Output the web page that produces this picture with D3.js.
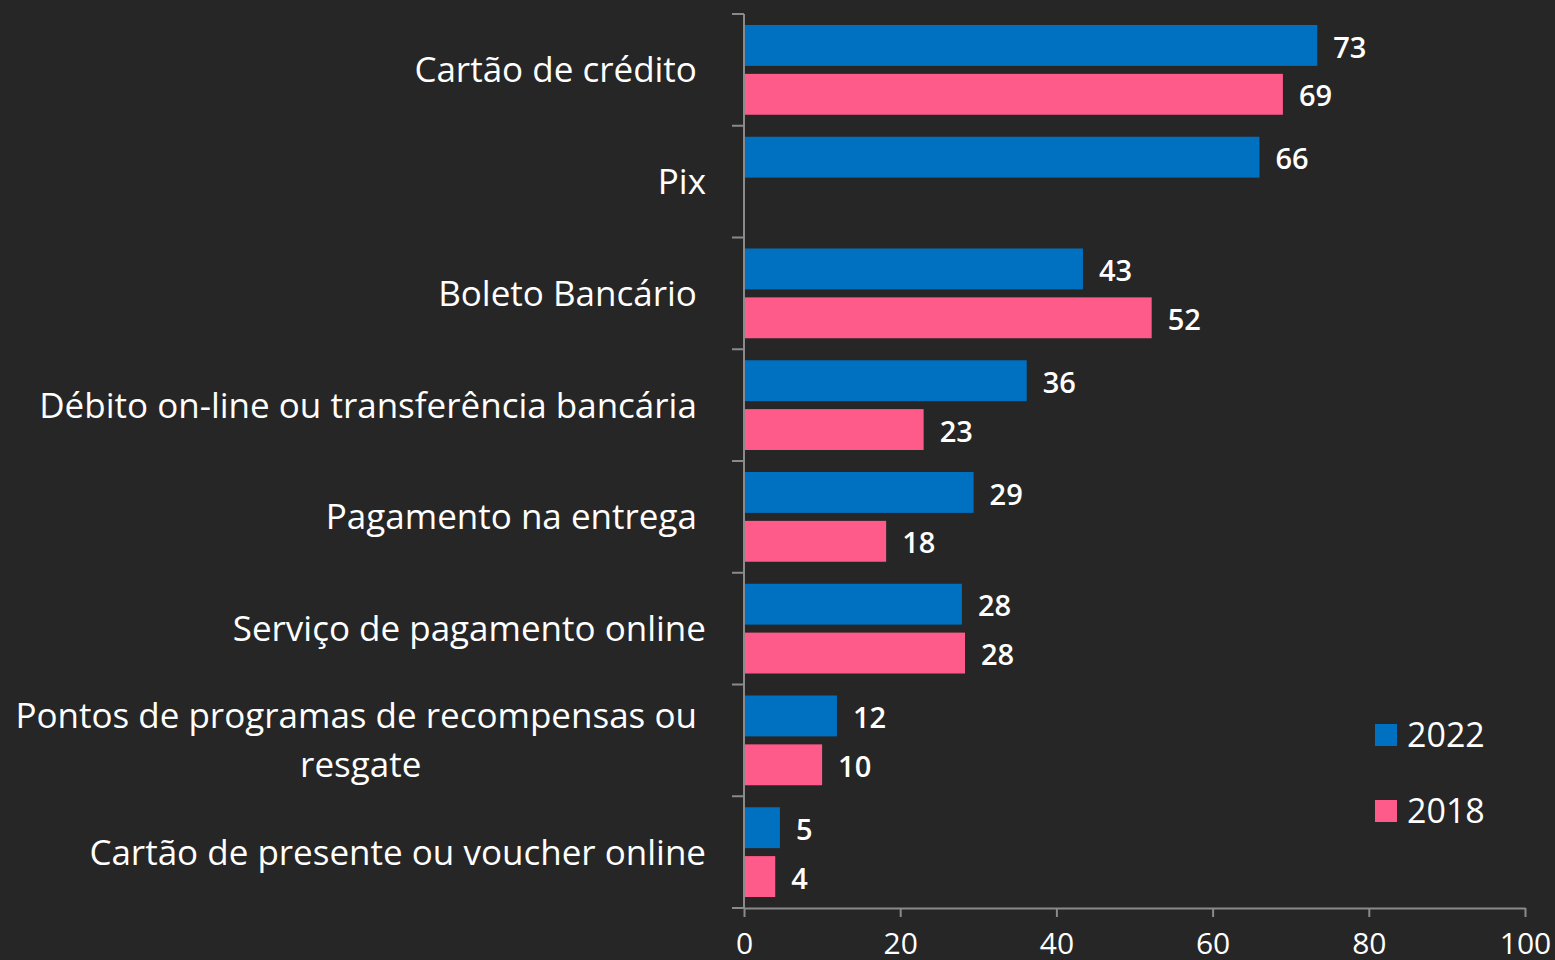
<!DOCTYPE html>
<html>
<head>
<meta charset="utf-8">
<script src="https://cdn.jsdelivr.net/npm/d3@7"></script>
<style>
  html, body { margin: 0; padding: 0; background: #262626; }
  svg { display: block; }
  text { font-family: "Open Sans", "Noto Sans", sans-serif; fill: #ffffff; }
</style>
</head>
<body>
<div class="chart"></div>
<script>
var svg_width = 1555;
var svg_height = 960;

var margin = { top: 14, right: 30, bottom: 52, left: 744 };
var width = svg_width - margin.left - margin.right;
var height = svg_height - margin.top - margin.bottom;

// Data
var categories = [
  "Cartão de crédito\u00a0",
  "Pix",
  "Boleto Bancário\u00a0",
  "Débito on-line ou transferência bancária\u00a0",
  "Pagamento na entrega\u00a0",
  "Serviço de pagamento online",
  "Pontos de programas de recompensas ou\u00a0\nresgate",
  "Cartão de presente ou voucher online"
];
var seriesNames = ["2022", "2018"];
var values2022 = [73.4, 66, 43.4, 36.2, 29.4, 27.9, 11.9, 4.6];
var values2018 = [69, null, 52.2, 23, 18.2, 28.3, 10, 4];
var xTicks = [0, 20, 40, 60, 80, 100];
var colors = ["#0070c0", "#ff5b8a"];

var svg = d3.select(".chart")
  .append("svg")
  .attr("width", svg_width)
  .attr("height", svg_height);

var g = svg.append("g")
  .attr("transform", `translate(${margin.left}, ${margin.top})`);

var xScale = d3.scaleLinear().domain([0, 100]).range([0, width]);
var yScale = d3.scaleBand().domain(categories).range([0, height]);
var subScale = d3.scaleBand().domain(seriesNames)
  .range([11, yScale.bandwidth() - 11])
  .paddingInner(0.1633);

var rows = categories.map(function(c, i) {
  return { cat: c, vals: [values2022[i], values2018[i]] };
});

// Bars
var groups = g.selectAll(".row")
  .data(rows)
  .enter().append("g")
  .attr("class", "row")
  .attr("transform", d => `translate(0, ${yScale(d.cat)})`);

var cells = groups.selectAll(".cell")
  .data(d => d.vals.map((v, j) => ({ v: v, s: seriesNames[j], j: j })).filter(e => e.v != null))
  .enter();

cells.append("rect")
  .attr("x", 0)
  .attr("y", d => subScale(d.s))
  .attr("width", d => xScale(d.v))
  .attr("height", subScale.bandwidth())
  .attr("fill", d => colors[d.j]);

cells.append("text")
  .attr("x", d => xScale(d.v) + 16)
  .attr("y", d => subScale(d.s) + subScale.bandwidth() / 2)
  .attr("dy", "0.42em")
  .style("font-size", "29px")
  .style("font-weight", 600)
  .text(d => Math.round(d.v));

// Axes
var axisColor = "#8a8a8a";

var bottomAxis = d3.axisBottom(xScale).tickValues(xTicks).tickSize(9).tickSizeOuter(0).tickPadding(16);
var bx = g.append("g")
  .attr("transform", `translate(0, ${height})`)
  .call(bottomAxis);
bx.select(".domain").attr("stroke", axisColor).attr("stroke-width", 2);
bx.selectAll(".tick line").attr("stroke", axisColor).attr("stroke-width", 2);
bx.selectAll(".tick text")
  .style("font-size", "30px")
  .style("font-family", "'Open Sans', sans-serif")
  .attr("fill", "#ffffff");

var tickPositions = d3.range(categories.length + 1).map(i => i * yScale.step());
var ax = g.append("g");
ax.append("line")
  .attr("x1", 0).attr("x2", 0).attr("y1", 0).attr("y2", height)
  .attr("stroke", axisColor).attr("stroke-width", 2);
ax.selectAll(".ytick")
  .data(tickPositions)
  .enter().append("line")
  .attr("x1", -12).attr("x2", 0)
  .attr("y1", d => d).attr("y2", d => d)
  .attr("stroke", axisColor).attr("stroke-width", 2);

// Category labels
var labelX = -38;
var lineH = 49;
var labels = g.selectAll(".cat")
  .data(categories)
  .enter().append("text")
  .attr("class", "cat")
  .attr("text-anchor", "end")
  .style("font-size", "35px")
  .each(function(d) {
    var lines = d.split("\n");
    var t = d3.select(this);
    var cy = yScale(d) + yScale.bandwidth() / 2;
    var y0 = cy - (lines.length - 1) * lineH / 2;
    var spans = lines.map(function(l, k) {
      return t.append("tspan")
        .attr("x", labelX)
        .attr("y", y0 + k * lineH)
        .attr("dy", "0.36em")
        .text(l);
    });
    var widths = spans.map(s => s.node().getComputedTextLength());
    var maxW = d3.max(widths);
    spans.forEach(function(s, k) {
      s.attr("x", labelX - (maxW - widths[k]) / 2);
    });
  });

// Legend
var legend = svg.append("g").attr("transform", "translate(1375, 735)");
seriesNames.forEach(function(s, i) {
  var lg = legend.append("g").attr("transform", `translate(0, ${i * 76})`);
  lg.append("rect")
    .attr("x", 0).attr("y", -11)
    .attr("width", 22).attr("height", 22)
    .attr("fill", colors[i]);
  lg.append("text")
    .attr("x", 32).attr("y", 0)
    .attr("dy", "0.36em")
    .style("font-size", "34px")
    .text(s);
});
</script>
</body>
</html>
